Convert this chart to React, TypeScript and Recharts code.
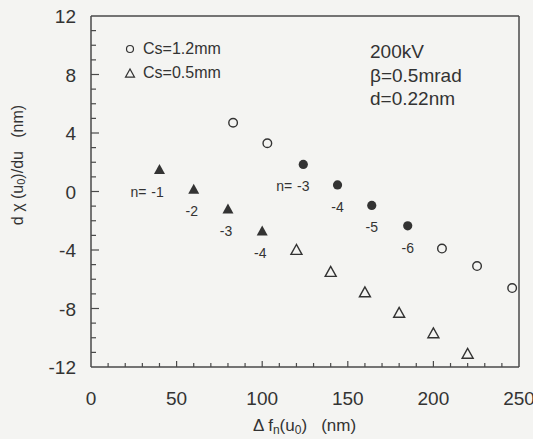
import React from "react";
import { ScatterChart, Scatter, XAxis, YAxis, ReferenceLine } from "recharts";

// Cs=0.5mm, filled (labelled n=-1..-4) and open triangles
const triFilledX = [40, 60, 80, 100];
const triFilledY = [1.5, 0.15, -1.2, -2.7];
const triFilledN = ["-1", "-2", "-3", "-4"];
const triOpenX = [120, 140, 160, 180, 200, 220];
const triOpenY = [-4.0, -5.5, -6.9, -8.3, -9.7, -11.1];

// Cs=1.2mm, open and filled (labelled n=-3..-6) circles
const circOpenX = [83, 103, 205, 225.5, 246];
const circOpenY = [4.7, 3.3, -3.9, -5.1, -6.6];
const circFilledX = [124, 144, 164, 185];
const circFilledY = [1.85, 0.45, -0.95, -2.35];
const circFilledN = ["-3", "-4", "-5", "-6"];

const legendNames = ["Cs=1.2mm", "Cs=0.5mm"];

const xTicks = [0, 10, 20, 30, 40, 50, 60, 70, 80, 90, 100, 110, 120, 130, 140, 150, 160, 170, 180, 190, 200, 210, 220, 230, 240, 250];
const xTickLabels = [0, 50, 100, 150, 200, 250];
const yTicks = [-12, -11, -10, -9, -8, -7, -6, -5, -4, -3, -2, -1, 0, 1, 2, 3, 4, 5, 6, 7, 8, 9, 10, 11, 12];
const yTickLabels = [-12, -8, -4, 0, 4, 8, 12];

const ink = "#333";
const axisColor = "#4a4a4a";
const font = "'Liberation Sans', Arial, sans-serif";

const triFilled = triFilledX.map((x, i) => ({ x, y: triFilledY[i], n: triFilledN[i] }));
const triOpen = triOpenX.map((x, i) => ({ x, y: triOpenY[i] }));
const circOpen = circOpenX.map((x, i) => ({ x, y: circOpenY[i] }));
const circFilled = circFilledX.map((x, i) => ({ x, y: circFilledY[i], n: circFilledN[i] }));

const triPoints = (cx: number, cy: number, s: number) =>
  `${cx},${cy - s} ${cx - s},${cy + s * 0.8} ${cx + s},${cy + s * 0.8}`;

const NLabel = ({ cx, cy, n, first }: any) => (
  <g fontFamily={font} fontSize={14} fill={ink}>
    {first && (
      <text x={cx - 13} y={cy + 27} textAnchor="end">
        n=
      </text>
    )}
    <text x={cx - 2} y={cy + 27} textAnchor="middle">
      {n}
    </text>
  </g>
);

const FilledTri = (props: any) => {
  const { cx, cy, payload, index } = props;
  return (
    <g>
      <polygon points={triPoints(cx, cy, 5.5)} fill={ink} />
      <NLabel cx={cx} cy={cy} n={payload.n} first={index === 0} />
    </g>
  );
};

const OpenTri = (props: any) => (
  <polygon points={triPoints(props.cx, props.cy, 5.5)} fill="none" stroke={ink} strokeWidth={1.4} />
);

const OpenCirc = (props: any) => (
  <circle cx={props.cx} cy={props.cy} r={4.3} fill="none" stroke={ink} strokeWidth={1.4} />
);

const FilledCirc = (props: any) => {
  const { cx, cy, payload, index } = props;
  return (
    <g>
      <circle cx={cx} cy={cy} r={4.6} fill={ink} />
      <NLabel cx={cx + 2} cy={cy} n={payload.n} first={index === 0} />
    </g>
  );
};

const XTick = (props: any) => {
  const { x, y, payload } = props;
  const major = xTickLabels.includes(payload.value);
  return (
    <g>
      {payload.value > 0 && payload.value < 250 && (
        <line x1={x} x2={x} y1={y} y2={y - (major ? 6 : 4)} stroke={axisColor} strokeWidth={1.2} />
      )}
      {major && (
        <text x={x} y={y + 38} textAnchor="middle" fontFamily={font} fontSize={19} fill={ink}>
          {payload.value}
        </text>
      )}
    </g>
  );
};

const YTick = (props: any) => {
  const { x, y, payload } = props;
  const major = yTickLabels.includes(payload.value);
  return (
    <g>
      {payload.value > -12 && payload.value < 12 && (
        <line x1={x} x2={x + (major ? 8 : 5)} y1={y} y2={y} stroke={axisColor} strokeWidth={1.2} />
      )}
      {major && (
        <text x={x - 15} y={y + 7} textAnchor="end" fontFamily={font} fontSize={19} fill={ink}>
          {payload.value}
        </text>
      )}
    </g>
  );
};

export default function App() {
  return (
    <div
      style={{
        position: "absolute",
        left: 0,
        top: 0,
        width: 533,
        height: 439,
        background: "#f4f4f2",
        overflow: "hidden",
      }}
    >
      <ScatterChart width={533} height={439} margin={{ top: 16, right: 14, left: 0, bottom: 0 }}>
        <XAxis
          type="number"
          dataKey="x"
          domain={[0, 250]}
          ticks={xTicks}
          interval={0}
          tickSize={0}
          tickMargin={0}
          tickLine={false}
          tick={<XTick />}
          axisLine={{ stroke: axisColor, strokeWidth: 1.5 }}
          height={72}
        />
        <YAxis
          type="number"
          dataKey="y"
          domain={[-12, 12]}
          ticks={yTicks}
          interval={0}
          tickSize={0}
          tickMargin={0}
          tickLine={false}
          tick={<YTick />}
          axisLine={{ stroke: axisColor, strokeWidth: 1.5 }}
          width={91}
        />
        <ReferenceLine y={12} stroke={axisColor} strokeWidth={1.5} />
        <ReferenceLine x={250} stroke={axisColor} strokeWidth={1.5} />
        <Scatter name={legendNames[0]} data={circOpen} shape={<OpenCirc />} isAnimationActive={false} />
        <Scatter name={legendNames[1]} data={triOpen} shape={<OpenTri />} isAnimationActive={false} />
        <Scatter data={circFilled} shape={<FilledCirc />} isAnimationActive={false} />
        <Scatter data={triFilled} shape={<FilledTri />} isAnimationActive={false} />
      </ScatterChart>

      {/* legend */}
      <div
        style={{
          position: "absolute",
          left: 124,
          top: 37,
          fontFamily: font,
          fontSize: 16,
          lineHeight: "24px",
          color: ink,
        }}
      >
        {legendNames.map((name, i) => (
          <div key={name} style={{ display: "flex", alignItems: "center" }}>
            <svg width={12} height={12} style={{ marginRight: 7 }}>
              {i === 0 ? (
                <circle cx={6} cy={6} r={3.5} fill="none" stroke={ink} strokeWidth={1.2} />
              ) : (
                <polygon points={triPoints(6, 6.5, 4.5)} fill="none" stroke={ink} strokeWidth={1.2} />
              )}
            </svg>
            <span>{name}</span>
          </div>
        ))}
      </div>

      <div
        style={{
          position: "absolute",
          left: 370,
          top: 40,
          fontFamily: font,
          fontSize: 19,
          lineHeight: "23.5px",
          color: ink,
        }}
      >
        <div>200kV</div>
        <div>β=0.5mrad</div>
        <div>d=0.22nm</div>
      </div>

      <div
        style={{
          position: "absolute",
          left: 253,
          top: 416,
          fontFamily: font,
          fontSize: 17,
          lineHeight: "20px",
          color: ink,
          whiteSpace: "pre",
        }}
      >
        Δ f<span style={{ fontSize: 12, verticalAlign: "-3px" }}>n</span>(u
        <span style={{ fontSize: 12, verticalAlign: "-3px" }}>0</span>)   (nm)
      </div>

      <div
        style={{
          position: "absolute",
          left: 18 - 100,
          top: 165 - 10,
          width: 200,
          height: 20,
          transform: "rotate(-90deg)",
          textAlign: "center",
          fontFamily: font,
          fontSize: 16,
          lineHeight: "20px",
          color: ink,
          whiteSpace: "pre",
        }}
      >
        d χ (u<span style={{ fontSize: 11, verticalAlign: "-2px" }}>0</span>)/du   (nm)
      </div>
    </div>
  );
}
